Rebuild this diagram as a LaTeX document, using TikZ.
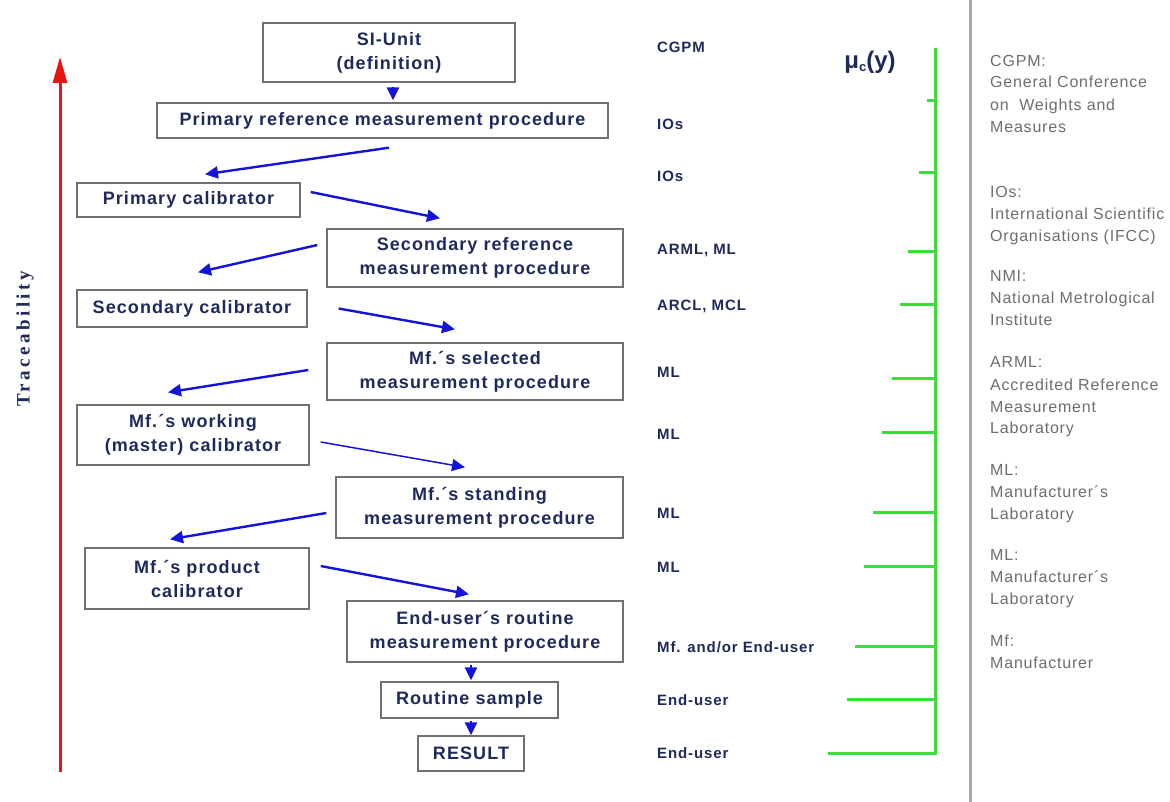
\documentclass[tikz,border=0pt]{standalone}
\usepackage{fontspec}
\setmainfont{Liberation Sans}
\newfontfamily\boxfont[LetterSpace=6]{Liberation Sans}
\newfontfamily\defnfont[LetterSpace=5]{Liberation Sans}
\newfontfamily\tracefont[LetterSpace=18]{Liberation Serif}
\usetikzlibrary{arrows.meta,calc}
\definecolor{boxtext}{HTML}{1F2A5C}
\definecolor{boxline}{HTML}{707070}
\definecolor{flowblue}{HTML}{1414D8}
\definecolor{tracered}{HTML}{E81414}
\definecolor{scalegreen}{HTML}{3CDC3C}
\definecolor{defgray}{HTML}{6E6E6E}
\definecolor{sepgray}{HTML}{A8A8A8}

\begin{document}
\begin{tikzpicture}[x=1pt, y=-1pt,
  box/.style={draw=boxline, line width=1.4pt, inner sep=0pt, align=center, text=boxtext, font=\boxfont\bfseries\fontsize{18}{24}\selectfont},
  who/.style={anchor=base west, inner sep=0pt, text=boxtext, font=\boxfont\bfseries\fontsize{15}{18}\selectfont},
  defn/.style={anchor=base west, inner sep=0pt, text=defgray, font=\defnfont\fontsize{16}{18}\selectfont},
  arr/.style={-{Triangle[length=13pt,width=12pt]}, line width=2.4pt, flowblue},
  tick/.style={line width=3pt, scalegreen}
]
  \useasboundingbox[fill=white] (0,0) rectangle (1170,802);

  % boxes of the chain
  \node[box, minimum width=252, minimum height=59] (si) at (389,52.5) {SI-Unit\\(definition)};
  \node[box, minimum width=451, minimum height=35] (prm) at (382.5,120.5) {Primary reference measurement procedure};
  \node[box, minimum width=223, minimum height=34] (pc) at (188.5,200) {Primary calibrator};
  \node[box, minimum width=296, minimum height=58] (srm) at (475,258) {Secondary reference\\measurement procedure};
  \node[box, minimum width=230, minimum height=37] (sc) at (192,308.5) {Secondary calibrator};
  \node[box, minimum width=296, minimum height=57] (ssm) at (475,371.5) {Mf.´s selected\\measurement procedure};
  \node[box, minimum width=232, minimum height=60] (wc) at (193,435) {Mf.´s working\\(master) calibrator};
  \node[box, minimum width=287, minimum height=61] (stm) at (479.5,507.5) {Mf.´s standing\\measurement procedure};
  \node[box, minimum width=224, minimum height=61] (pdc) at (197,578.5) {Mf.´s product\\calibrator};
  \node[box, minimum width=276, minimum height=61] (erm) at (485,631.5) {End-user´s routine\\measurement procedure};
  \node[box, minimum width=177, minimum height=36] (rs) at (469.5,700) {Routine sample};
  \node[box, minimum width=106, minimum height=35] (res) at (471,753.5) {RESULT};

  % arrows
  \draw[arr] ([shift={(4,4)}]si.south) -- ([shift={(10.5,-2)}]prm.north);
  \draw[arr] ([shift={(6.5,9)}]prm.south) -- ([shift={(16.5,-8)}]pc.north);
  \draw[arr] ([shift={(10,-8)}]pc.east) -- ([shift={(-35,-10)}]srm.north);
  \draw[arr] ([shift={(-9,-13)}]srm.west) -- ([shift={(6,-17)}]sc.north);
  \draw[arr] ([shift={(31,0)}]sc.east) -- ([shift={(-20,-13)}]ssm.north);
  \draw[arr] ([shift={(-18,-1.5)}]ssm.west) -- ([shift={(-25,-12)}]wc.north);
  \draw[arr, line width=1.5pt] ([shift={(11,7)}]wc.east) -- ([shift={(-14.5,-9)}]stm.north);
  \draw[arr] ([shift={(-9,5.5)}]stm.west) -- ([shift={(-27,-8)}]pdc.north);
  \draw[arr] ([shift={(11,-12.5)}]pdc.east) -- ([shift={(-16,-6)}]erm.north);
  \draw[arr] ([shift={(-14,2)}]erm.south) -- ([shift={(1.5,-1)}]rs.north);
  \draw[arr] ([shift={(1.5,2)}]rs.south) -- (res.north);

  % traceability axis
  \draw[line width=3pt, tracered, -{Triangle[length=26pt,width=14pt]}] (60,772) -- (60,57);
  \node[rotate=90, text=boxtext, font=\tracefont\bfseries\fontsize{19}{22}\selectfont] (trace) at (25,339) {Traceability};

  % who does it
  \foreach \y/\t [count=\i] in {53/CGPM, 130/IOs, 182/IOs, 255/{ARML, ML}, 311/{ARCL, MCL}, 377/ML, 439/ML, 518/ML, 572/ML, 652/{Mf. and/or End-user}, 705/End-user, 758/End-user}
    \node[who] (who\i) at (657,\y) {\t};

  % uncertainty scale
  \node[text=boxtext, font=\bfseries\fontsize{24}{26}\selectfont] (mu) at (870,62) {μ{\fontsize{13}{13}\selectfont\raisebox{-3pt}{c}}(y)};
  \foreach \ty/\tx in {101/927, 173/919, 252/908, 305/900, 378/892, 432/882, 512/873, 566/864, 646/855, 699/847}
    \draw[tick] (\tx,\ty) -- (935,\ty);
  \draw[tick] (935,48) -- (935,753) -- (828,753);

  % separator
  \draw[line width=3pt, sepgray] (970,0) -- (970,802);

  % legend
  \foreach \y/\t [count=\i] in {67/CGPM:, 88/General Conference, 111/on\ \ Weights and, 133/Measures,
      198/IOs:, 220/International Scientific, 242/Organisations (IFCC),
      282/NMI:, 304/National Metrological, 326/Institute,
      367/ARML:, 390/Accredited Reference, 412/Measurement, 433/Laboratory,
      475/ML:, 497/Manufacturer´s, 519/Laboratory,
      560/ML:, 582/Manufacturer´s, 604/Laboratory,
      646/Mf:, 668/Manufacturer}
    \node[defn] (def\i) at (990,\y) {\t};
\end{tikzpicture}
\end{document}
